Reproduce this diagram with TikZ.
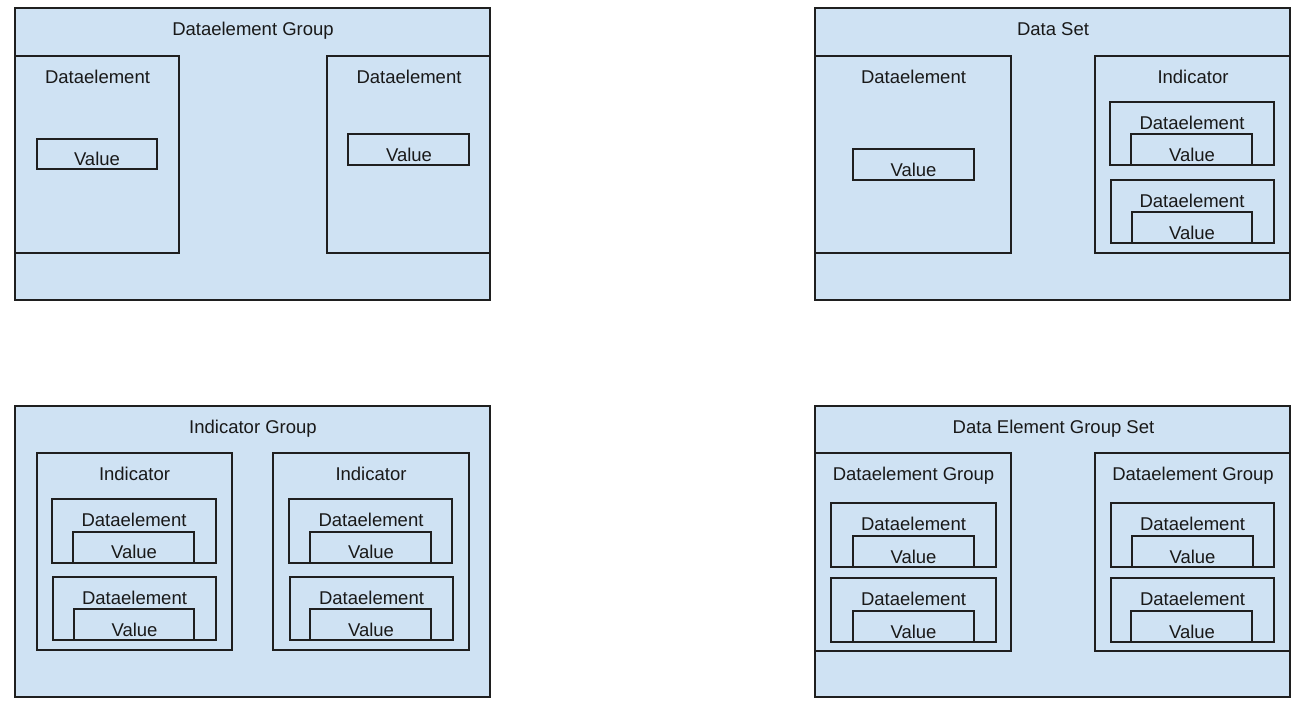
\documentclass[tikz,border=0pt]{standalone}
\usepackage{fontspec}
\setmainfont{Liberation Sans}
\definecolor{fillblue}{HTML}{CFE2F3}
\definecolor{edge}{HTML}{1F1F1F}
\tikzset{
  box/.style={draw=edge, fill=fillblue, line width=1.5pt, inner sep=0pt, outer sep=0pt, rectangle},
  lbl/.style={font=\fontsize{18.5}{22}\selectfont, anchor=base, inner sep=0pt, text=black!90}
}
\newcommand\mkbox[5]{\node[box, minimum width={(#4-#2)*1pt}, minimum height={(#5-#3)*1pt}] (#1) at ({(#2+#4)/2},{(#3+#5)/2}) {};}
\newcommand\mklbl[4]{\node[lbl] (#1) at (#2,{#3+6.6}) {#4};}
\begin{document}
\begin{tikzpicture}[x=1pt,y=-1pt]
\useasboundingbox (0,0) rectangle (1304,716);
% Panel 1
\mkbox{g1}{15}{8}{490}{300}
\mkbox{g1a}{15}{56}{179}{253}
\mkbox{g1b}{327}{56}{490}{253}
\mkbox{g1av}{37}{139}{157}{169}
\mkbox{g1bv}{348}{134}{469}{165}
\mklbl{t1}{253}{29}{Dataelement Group}
\mklbl{t1a}{97.5}{76.5}{Dataelement}
\mklbl{t1b}{409}{76.5}{Dataelement}
\mklbl{t1av}{97}{159}{Value}
\mklbl{t1bv}{409}{155}{Value}
% Panel 2
\mkbox{g2}{815}{8}{1290}{300}
\mkbox{g2a}{815}{56}{1011}{253}
\mkbox{g2av}{853}{149}{974}{180}
\mkbox{g2b}{1095}{56}{1290}{253}
\mkbox{g2b1}{1110}{102}{1274}{165}
\mkbox{g2b1v}{1131}{134}{1252}{165}
\mkbox{g2b2}{1111}{180}{1274}{243}
\mkbox{g2b2v}{1132}{212}{1252}{243}
\mklbl{t2}{1053}{29}{Data Set}
\mklbl{t2a}{913.5}{76.5}{Dataelement}
\mklbl{t2av}{913.5}{170}{Value}
\mklbl{t2b}{1193}{76.5}{Indicator}
\mklbl{t2b1}{1192}{122.7}{Dataelement}
\mklbl{t2b1v}{1192}{155}{Value}
\mklbl{t2b2}{1192}{201}{Dataelement}
\mklbl{t2b2v}{1192}{233}{Value}
% Panel 3
\mkbox{g3}{15}{406}{490}{697}
\mkbox{g3a}{37}{453}{232}{650}
\mkbox{g3a1}{52}{499}{216}{563}
\mkbox{g3a1v}{73}{532}{194}{563}
\mkbox{g3a2}{53}{577}{216}{640}
\mkbox{g3a2v}{74}{609}{194}{640}
\mkbox{g3b}{273}{453}{469}{650}
\mkbox{g3b1}{289}{499}{452}{563}
\mkbox{g3b1v}{310}{532}{431}{563}
\mkbox{g3b2}{290}{577}{453}{640}
\mkbox{g3b2v}{310}{609}{431}{640}
\mklbl{t3}{253}{427}{Indicator Group}
\mklbl{t3a}{134.5}{474}{Indicator}
\mklbl{t3a1}{134}{520}{Dataelement}
\mklbl{t3a1v}{134}{552}{Value}
\mklbl{t3a2}{134.5}{598}{Dataelement}
\mklbl{t3a2v}{134.5}{630}{Value}
\mklbl{t3b}{371}{474}{Indicator}
\mklbl{t3b1}{371}{520}{Dataelement}
\mklbl{t3b1v}{371}{552}{Value}
\mklbl{t3b2}{371.5}{598}{Dataelement}
\mklbl{t3b2v}{371}{630}{Value}
% Panel 4
\mkbox{g4}{815}{406}{1290}{697}
\mkbox{g4a}{815}{453}{1011}{651}
\mkbox{g4a1}{831}{503}{996}{567}
\mkbox{g4a1v}{853}{536}{974}{567}
\mkbox{g4a2}{831}{578}{996}{642}
\mkbox{g4a2v}{853}{611}{974}{642}
\mkbox{g4b}{1095}{453}{1290}{651}
\mkbox{g4b1}{1111}{503}{1274}{567}
\mkbox{g4b1v}{1132}{536}{1253}{567}
\mkbox{g4b2}{1111}{578}{1274}{642}
\mkbox{g4b2v}{1131}{611}{1252}{642}
\mklbl{t4}{1053.5}{427}{Data Element Group Set}
\mklbl{t4a}{913.5}{474}{Dataelement Group}
\mklbl{t4a1}{913.5}{524}{Dataelement}
\mklbl{t4a1v}{913.5}{556.5}{Value}
\mklbl{t4a2}{913.5}{599}{Dataelement}
\mklbl{t4a2v}{913.5}{631.5}{Value}
\mklbl{t4b}{1193}{474}{Dataelement Group}
\mklbl{t4b1}{1192.5}{524}{Dataelement}
\mklbl{t4b1v}{1192.5}{556.5}{Value}
\mklbl{t4b2}{1192.5}{599}{Dataelement}
\mklbl{t4b2v}{1192}{631.5}{Value}
\end{tikzpicture}
\end{document}
